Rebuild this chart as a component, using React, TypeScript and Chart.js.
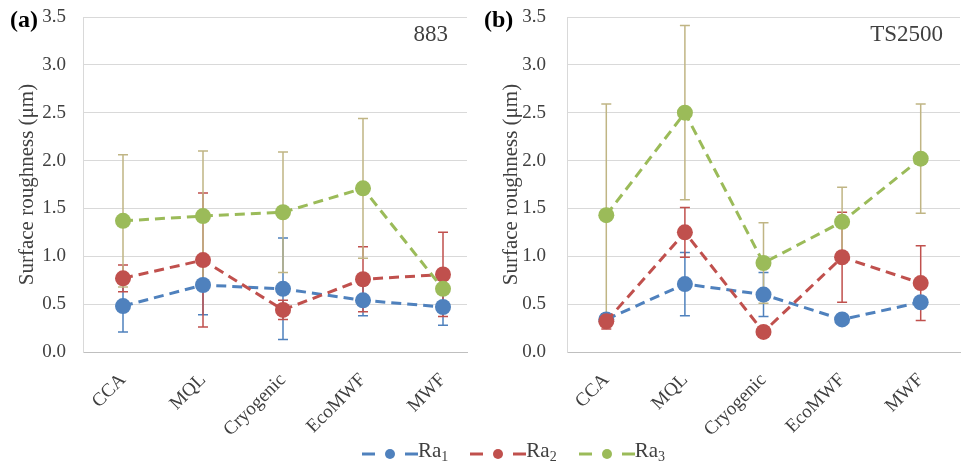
import React, { useEffect, useRef } from 'react';
import { Chart, registerables } from 'chart.js';

Chart.register(...registerables);

// Cooling/lubrication strategies on the category axis
const categories = ['CCA', 'MQL', 'Cryogenic', 'EcoMWF', 'MWF'];

// Panel (a): alloy 883 — mean roughness and standard deviation (µm)
const ra1_883 = [0.48, 0.70, 0.66, 0.54, 0.47];
const ra1Err_883 = [0.27, 0.31, 0.53, 0.16, 0.19];
const ra2_883 = [0.77, 0.96, 0.44, 0.76, 0.81];
const ra2Err_883 = [0.14, 0.70, 0.10, 0.34, 0.44];
const ra3_883 = [1.37, 1.42, 1.46, 1.71, 0.66];
const ra3Err_883 = [0.69, 0.68, 0.63, 0.73, 0.05];

// Panel (b): alloy TS2500
const ra1_ts = [0.34, 0.71, 0.60, 0.34, 0.52];
const ra1Err_ts = [0.06, 0.33, 0.23, 0.04, 0.04];
const ra2_ts = [0.32, 1.25, 0.21, 0.99, 0.72];
const ra2Err_ts = [0.08, 0.26, 0.05, 0.47, 0.39];
const ra3_ts = [1.43, 2.50, 0.93, 1.36, 2.02];
const ra3Err_ts = [1.16, 0.91, 0.42, 0.36, 0.57];

const seriesKeys = ['1', '2', '3'];

const FONT = '"Liberation Serif", "Times New Roman", serif';
const TEXT = '#404040';
const LINE_COLORS = ['#4f81bd', '#c0504d', '#9bbb59'];
const ERR_COLORS = ['#4f81bd', '#c0504d', '#c0b584'];

type PanelProps = {
  tag: string;
  material: string;
  values: number[][];
  errors: number[][];
  xMax: number;
  tickPad: number;
  tagX: number;
  materialX: number;
};

function Panel({ tag, material, values, errors, xMax, tickPad, tagX, materialX }: PanelProps) {
  const ref = useRef<HTMLCanvasElement>(null);

  useEffect(() => {
    if (!ref.current) return;

    // Symmetric vertical error bars with caps, drawn beneath the lines
    const errorBars = {
      id: 'errorBars',
      beforeDatasetsDraw(chart: any) {
        const { ctx } = chart;
        const xs = chart.scales.x;
        const ys = chart.scales.y;
        values.forEach((series, s) => {
          ctx.save();
          ctx.strokeStyle = ERR_COLORS[s];
          ctx.lineWidth = 1.5;
          series.forEach((v, i) => {
            const e = errors[s][i];
            const px = xs.getPixelForValue(i);
            const top = ys.getPixelForValue(v + e);
            const bot = ys.getPixelForValue(v - e);
            ctx.beginPath();
            ctx.moveTo(px, top);
            ctx.lineTo(px, bot);
            ctx.moveTo(px - 5, top);
            ctx.lineTo(px + 5, top);
            ctx.moveTo(px - 5, bot);
            ctx.lineTo(px + 5, bot);
            ctx.stroke();
          });
          ctx.restore();
        });
      },
    };

    // Panel letter and material name
    const captions = {
      id: 'captions',
      afterDraw(chart: any) {
        const { ctx } = chart;
        ctx.save();
        ctx.textBaseline = 'alphabetic';
        ctx.fillStyle = '#000';
        ctx.font = `bold 24px ${FONT}`;
        ctx.textAlign = 'left';
        ctx.fillText(tag, tagX, 27);
        ctx.fillStyle = TEXT;
        ctx.font = `23px ${FONT}`;
        ctx.textAlign = 'right';
        ctx.fillText(material, materialX, 41);
        ctx.restore();
      },
    };

    const chart = new Chart(ref.current, {
      type: 'line',
      data: {
        datasets: values.map((series, s) => ({
          label: 'Ra' + seriesKeys[s],
          data: series.map((v, i) => ({ x: i, y: v })),
          borderColor: LINE_COLORS[s],
          backgroundColor: LINE_COLORS[s],
          borderWidth: 3,
          borderDash: [10, 6],
          pointRadius: 8,
          pointBorderWidth: 0,
          pointBackgroundColor: LINE_COLORS[s],
          pointStyle: 'circle',
          tension: 0,
          fill: false,
          order: 3 - s,
        })),
      },
      options: {
        responsive: false,
        animation: false,
        devicePixelRatio: 1,
        layout: { padding: { top: 17, right: 484 - 83 - (xMax + 0.5) * 80, left: 0, bottom: 0 } },
        plugins: {
          legend: { display: false },
          tooltip: { enabled: false },
        },
        scales: {
          x: {
            type: 'linear',
            min: -0.5,
            max: xMax,
            bounds: 'data',
            afterBuildTicks: (scale: any) => {
              scale.ticks = categories.map((_, i) => ({ value: i }));
            },
            afterFit: (scale: any) => {
              scale.height = 88;
              scale.paddingLeft = 0;
              scale.paddingRight = 0;
            },
            grid: { display: false, drawTicks: false },
            border: { display: true, color: '#bfbfbf', width: 1 },
            ticks: {
              autoSkip: false,
              minRotation: 45,
              maxRotation: 45,
              padding: 17,
              color: TEXT,
              font: { family: FONT, size: 19 },
              callback: (v: any) => categories[Number(v)] ?? '',
            },
          },
          y: {
            min: 0,
            max: 3.5,
            afterFit: (scale: any) => {
              scale.width = 83;
              scale.paddingTop = 0;
              scale.paddingBottom = 0;
            },
            grid: { color: '#d9d9d9', lineWidth: 1, drawTicks: false },
            border: { display: true, color: '#d9d9d9', width: 1 },
            ticks: {
              stepSize: 0.5,
              padding: tickPad,
              color: TEXT,
              font: { family: FONT, size: 19 },
              callback: (v: any) => Number(v).toFixed(1),
            },
            title: {
              display: true,
              text: 'Surface roughness (μm)',
              color: TEXT,
              font: { family: FONT, size: 21, weight: 'normal' },
              padding: { top: 15, bottom: 0 },
            },
          },
        },
      },
      plugins: [errorBars, captions],
    });

    return () => chart.destroy();
  }, []);

  return <canvas ref={ref} width={484} height={440} style={{ display: 'block' }} />;
}

function LegendItem({ color, sub }: { color: string; sub: string }) {
  return (
    <div style={{ display: 'flex', alignItems: 'center' }}>
      <svg width={56} height={20} style={{ display: 'block' }}>
        <line x1={0} y1={10} x2={13} y2={10} stroke={color} strokeWidth={3} />
        <circle cx={28} cy={10} r={5} fill={color} />
        <line x1={43} y1={10} x2={56} y2={10} stroke={color} strokeWidth={3} />
      </svg>
      <span style={{ lineHeight: '20px' }}>
        Ra<sub style={{ fontSize: 14, verticalAlign: -4 }}>{sub}</sub>
      </span>
    </div>
  );
}

export default function App() {
  return (
    <div
      style={{
        position: 'absolute',
        left: 0,
        top: 0,
        width: 968,
        height: 462,
        background: '#fff',
        overflow: 'hidden',
      }}
    >
      <div style={{ position: 'absolute', left: 0, top: 0 }}>
        <Panel
          tag="(a)"
          material="883"
          values={[ra1_883, ra2_883, ra3_883]}
          errors={[ra1Err_883, ra2Err_883, ra3Err_883]}
          xMax={4.3}
          tickPad={17}
          tagX={10}
          materialX={448}
        />
      </div>
      <div style={{ position: 'absolute', left: 484, top: 0 }}>
        <Panel
          tag="(b)"
          material="TS2500"
          values={[ra1_ts, ra2_ts, ra3_ts]}
          errors={[ra1Err_ts, ra2Err_ts, ra3Err_ts]}
          xMax={4.5}
          tickPad={21}
          tagX={0}
          materialX={459}
        />
      </div>
      <div
        style={{
          position: 'absolute',
          left: 362,
          top: 440,
          display: 'flex',
          alignItems: 'center',
          gap: 22,
          fontFamily: FONT,
          fontSize: 21,
          color: TEXT,
        }}
      >
        {seriesKeys.map((k, s) => (
          <LegendItem key={k} color={LINE_COLORS[s]} sub={k} />
        ))}
      </div>
    </div>
  );
}
